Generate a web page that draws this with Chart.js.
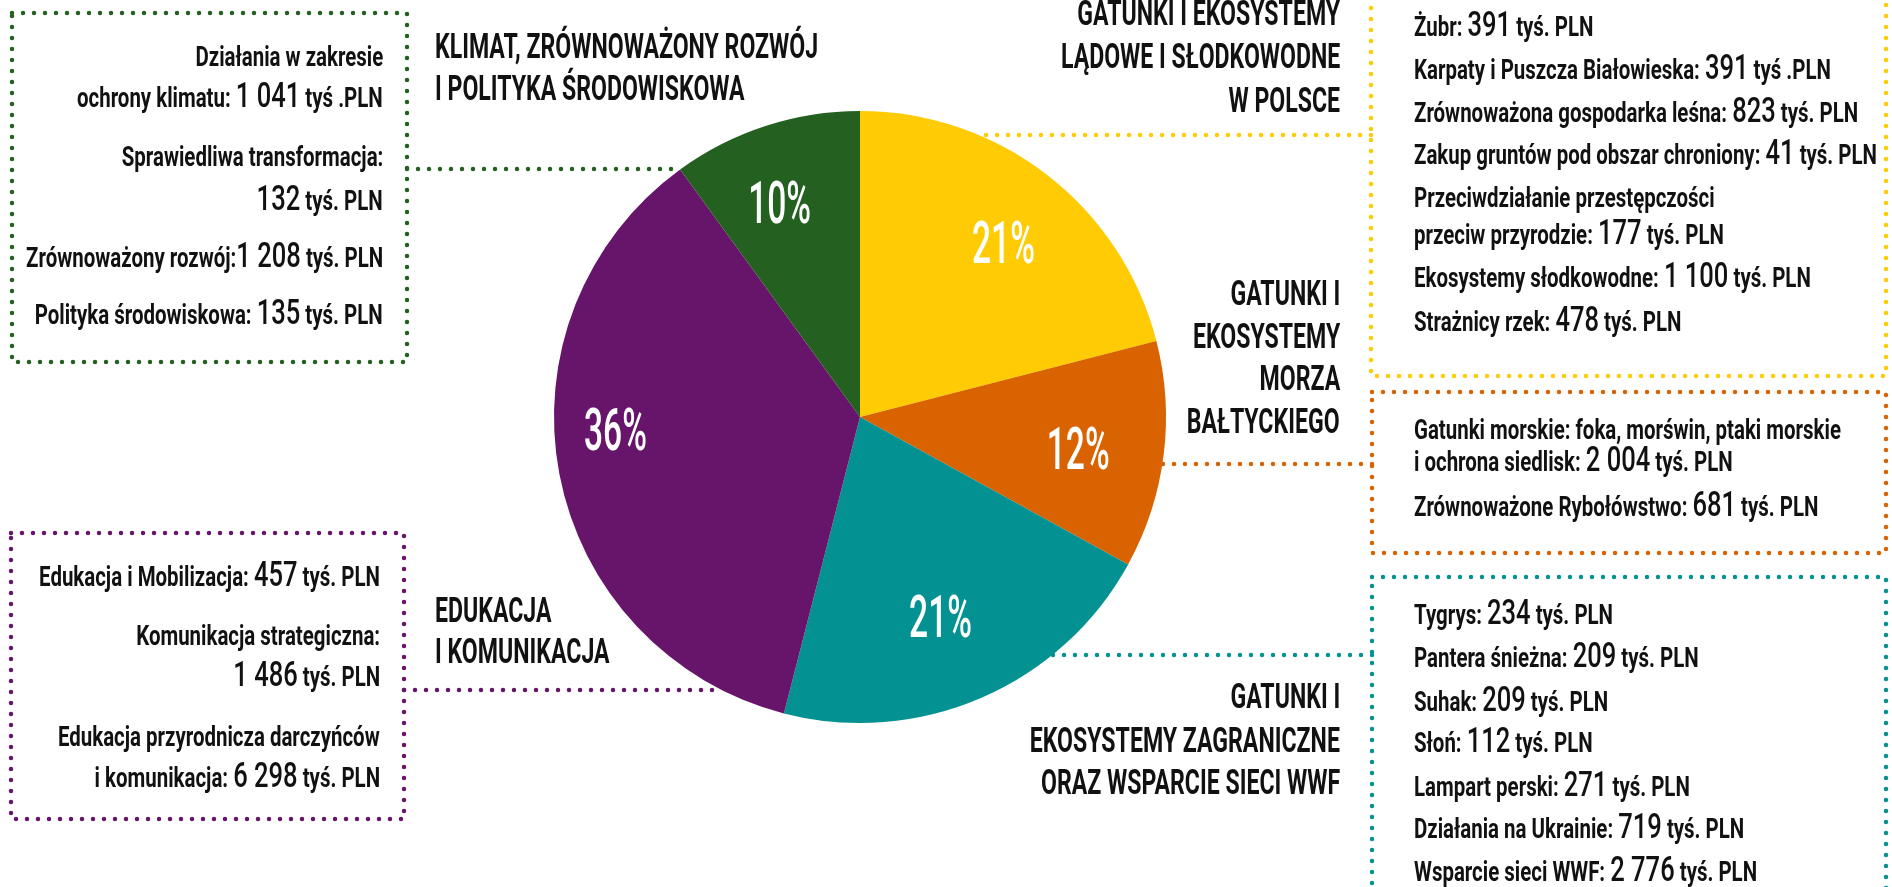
<!DOCTYPE html>
<html lang="pl">
<head>
<meta charset="utf-8">
<title>Struktura wydatków programowych</title>
<script src="https://cdn.jsdelivr.net/npm/chart.js@4.4.1/dist/chart.umd.min.js"></script>
<style>
  html, body { margin: 0; padding: 0; background: #fff; }
  body { width: 1892px; height: 887px; overflow: hidden; position: relative;
         font-family: Roboto, 'Liberation Sans', sans-serif; color: #111; }
  #wykres { position: absolute; left: 0; top: 0; }
  .ln { position: absolute; white-space: nowrap; font-weight: 700; }
  .ln .num { font-size: 35px; line-height: 0; font-weight: 500; }
  .ttl { font-weight: 700; }
</style>
</head>
<body>
<canvas id="wykres" width="1892" height="887"></canvas>
<script>
// --- dane -------------------------------------------------------------
const categories = [
    'Gatunki i ekosystemy lądowe i słodkowodne w Polsce',
    'Gatunki i ekosystemy Morza Bałtyckiego',
    'Gatunki i ekosystemy zagraniczne oraz wsparcie sieci WWF',
    'Edukacja i komunikacja',
    'Klimat, zrównoważony rozwój i polityka środowiskowa'
];
const shares = [21, 12, 21, 36, 10];
const sliceColors = ['#ffcb05', '#d96300', '#039191', '#67156b', '#24601f'];

// tytuły kategorii (po liniach)
const titleLadowe = ['GATUNKI I EKOSYSTEMY', 'LĄDOWE I SŁODKOWODNE', 'W POLSCE'];
const titleBaltyk = ['GATUNKI I', 'EKOSYSTEMY', 'MORZA', 'BAŁTYCKIEGO'];
const titleZagranica = ['GATUNKI I', 'EKOSYSTEMY ZAGRANICZNE', 'ORAZ WSPARCIE SIECI WWF'];
const titleEdukacja = ['EDUKACJA', 'I KOMUNIKACJA'];
const titleKlimat = ['KLIMAT, ZRÓWNOWAŻONY ROZWÓJ', 'I POLITYKA ŚRODOWISKOWA'];

// pozycje budżetowe; kwota między znakami |
const itemsLadowe = [
    'Żubr: |391| tyś. PLN',
    'Karpaty i Puszcza Białowieska: |391| tyś .PLN',
    'Zrównoważona gospodarka leśna: |823| tyś. PLN',
    'Zakup gruntów pod obszar chroniony: |41| tyś. PLN',
    'Przeciwdziałanie przestępczości',
    'przeciw przyrodzie: |177| tyś. PLN',
    'Ekosystemy słodkowodne: |1 100| tyś. PLN',
    'Strażnicy rzek: |478| tyś. PLN'
];
const itemsBaltyk = [
    'Gatunki morskie: foka, morświn, ptaki morskie',
    'i ochrona siedlisk: |2 004| tyś. PLN',
    'Zrównoważone Rybołówstwo: |681| tyś. PLN'
];
const itemsZagranica = [
    'Tygrys: |234| tyś. PLN',
    'Pantera śnieżna: |209| tyś. PLN',
    'Suhak: |209| tyś. PLN',
    'Słoń: |112| tyś. PLN',
    'Lampart perski: |271| tyś. PLN',
    'Działania na Ukrainie: |719| tyś. PLN',
    'Wsparcie sieci WWF: |2 776| tyś. PLN'
];
const itemsEdukacja = [
    'Edukacja i Mobilizacja: |457| tyś. PLN',
    'Komunikacja strategiczna:',
    '|1 486| tyś. PLN',
    'Edukacja przyrodnicza darczyńców',
    'i komunikacja: |6 298| tyś. PLN'
];
const itemsKlimat = [
    'Działania w zakresie',
    'ochrony klimatu: |1 041| tyś .PLN',
    'Sprawiedliwa transformacja:',
    '|132| tyś. PLN',
    'Zrównoważony rozwój:|1 208| tyś. PLN',
    'Polityka środowiskowa: |135| tyś. PLN'
];

// --- układ strony -------------------------------------------------------
const W = 1892;
const BASE = 0.842;          // położenie linii bazowej względem górnej krawędzi wiersza
const SQ_BODY = 0.73;        // zwężenie kroju (font condensed)
const SQ_TITLE = 0.66;

const blocks = [
    { lines: titleLadowe,    x: 1340, align: 'right', size: 35, cls: 'ttl', sq: SQ_TITLE, y: [25, 68, 112] },
    { lines: titleBaltyk,    x: 1340, align: 'right', size: 35, cls: 'ttl', sq: SQ_TITLE, y: [305, 348, 390, 433] },
    { lines: titleZagranica, x: 1340, align: 'right', size: 35, cls: 'ttl', sq: SQ_TITLE, y: [708, 752, 794] },
    { lines: titleEdukacja,  x: 435,  align: 'left',  size: 35, cls: 'ttl', sq: SQ_TITLE, y: [622, 663] },
    { lines: titleKlimat,    x: 435,  align: 'left',  size: 35, cls: 'ttl', sq: SQ_TITLE, y: [58, 100] },
    { lines: itemsLadowe,    x: 1414, align: 'left',  size: 28, cls: '', sq: SQ_BODY, y: [37, 80, 123, 165, 208, 245, 288, 332] },
    { lines: itemsBaltyk,    x: 1414, align: 'left',  size: 28, cls: '', sq: SQ_BODY, y: [440, 472, 517] },
    { lines: itemsZagranica, x: 1414, align: 'left',  size: 28, cls: '', sq: SQ_BODY, y: [625, 668, 712, 753, 797, 839, 882] },
    { lines: itemsEdukacja,  x: 380,  align: 'right', size: 28, cls: '', sq: SQ_BODY, y: [587, 646, 687, 747, 788] },
    { lines: itemsKlimat,    x: 383,  align: 'right', size: 28, cls: '', sq: SQ_BODY, y: [67, 108, 167, 211, 268, 325] }
];

// ramki kropkowane: [kolor, x1, y1, x2, y2], łączniki: [kolor, y, xRamki, strona koła]
const frames = [
    [sliceColors[0], 1371, -30, 1886, 376],
    [sliceColors[1], 1372, 392, 1886, 553],
    [sliceColors[2], 1372, 577, 1886, 920],
    [sliceColors[3], 11, 533, 404, 819],
    [sliceColors[4], 12, 13, 407, 362]
];
const links = [
    [sliceColors[0], 135, 1371, 1],
    [sliceColors[1], 464, 1372, 1],
    [sliceColors[2], 655, 1372, 1],
    [sliceColors[3], 690, 404, -1],
    [sliceColors[4], 169, 407, -1]
];

// przesunięcie etykiet procentowych: [kąt w stopniach, promień względny]
const labelNudge = [[1.5, 0.74], [0.7, 0.72], [1.3, 0.70], [8, 0.80], [-2.5, 0.75]];

function addLine(text, b, baseline) {
    const el = document.createElement('div');
    el.className = 'ln ' + b.cls;
    el.style.fontSize = b.size + 'px';
    el.style.lineHeight = b.size + 'px';
    el.style.top = (baseline - BASE * b.size) + 'px';
    if (b.align === 'right') {
        el.style.right = (W - b.x) + 'px';
        el.style.transformOrigin = 'right center';
    } else {
        el.style.left = b.x + 'px';
        el.style.transformOrigin = 'left center';
    }
    el.style.transform = `scaleX(${b.sq})`;
    text.split('|').forEach((part, i) => {
        if (i % 2 === 1) {
            const s = document.createElement('span');
            s.className = 'num';
            s.textContent = part;
            el.appendChild(s);
        } else {
            el.appendChild(document.createTextNode(part));
        }
    });
    document.body.appendChild(el);
}

blocks.forEach(b => b.lines.forEach((t, i) => addLine(t, b, b.y[i])));

function dotted(ctx, color) {
    ctx.strokeStyle = color;
    ctx.lineWidth = 4.5;
    ctx.lineCap = 'round';
    ctx.setLineDash([0, 11]);
}

// ramki i łączniki pod wykresem
const framesPlugin = {
    id: 'frames',
    beforeDatasetsDraw(chart) {
        const ctx = chart.ctx;
        const arc = chart.getDatasetMeta(0).data[0];
        const cx = arc.x, cy = arc.y, r = arc.outerRadius;
        ctx.save();
        frames.forEach(([c, x1, y1, x2, y2]) => {
            dotted(ctx, c);
            ctx.beginPath();
            ctx.rect(x1, y1, x2 - x1, y2 - y1);
            ctx.stroke();
        });
        links.forEach(([c, y, xf, side]) => {
            const dx = Math.sqrt(Math.max(0, r * r - (y - cy) * (y - cy)));
            const xe = cx + side * dx;
            dotted(ctx, c);
            ctx.beginPath();
            ctx.moveTo(xf, y);
            ctx.lineTo(xe, y);
            ctx.stroke();
        });
        ctx.restore();
    }
};

// procenty na wycinkach
const pctPlugin = {
    id: 'pct',
    afterDatasetsDraw(chart) {
        const ctx = chart.ctx;
        const meta = chart.getDatasetMeta(0);
        const size = 60;
        ctx.save();
        ctx.fillStyle = '#ffffff';
        ctx.font = `500 ${size}px Roboto, sans-serif`;
        ctx.textAlign = 'center';
        ctx.textBaseline = 'alphabetic';
        meta.data.forEach((arc, i) => {
            const [da, rf] = labelNudge[i];
            const mid = (arc.startAngle + arc.endAngle) / 2 + da * Math.PI / 180;
            const px = arc.x + Math.cos(mid) * arc.outerRadius * rf;
            const py = arc.y + Math.sin(mid) * arc.outerRadius * rf;
            ctx.save();
            ctx.translate(px, py + size * 0.355);
            ctx.scale(0.56, 1);
            ctx.fillText(shares[i] + '%', 0, 0);
            ctx.restore();
        });
        ctx.restore();
    }
};

new Chart(document.getElementById('wykres'), {
    type: 'pie',
    data: {
        labels: categories,
        datasets: [{
            data: shares,
            backgroundColor: sliceColors,
            borderWidth: 0
        }]
    },
    options: {
        responsive: false,
        animation: false,
        layout: { padding: { left: 554, right: 726, top: 111, bottom: 164 } },
        plugins: {
            legend: { display: false },
            tooltip: { enabled: false }
        }
    },
    plugins: [framesPlugin, pctPlugin]
});
</script>
</body>
</html>
